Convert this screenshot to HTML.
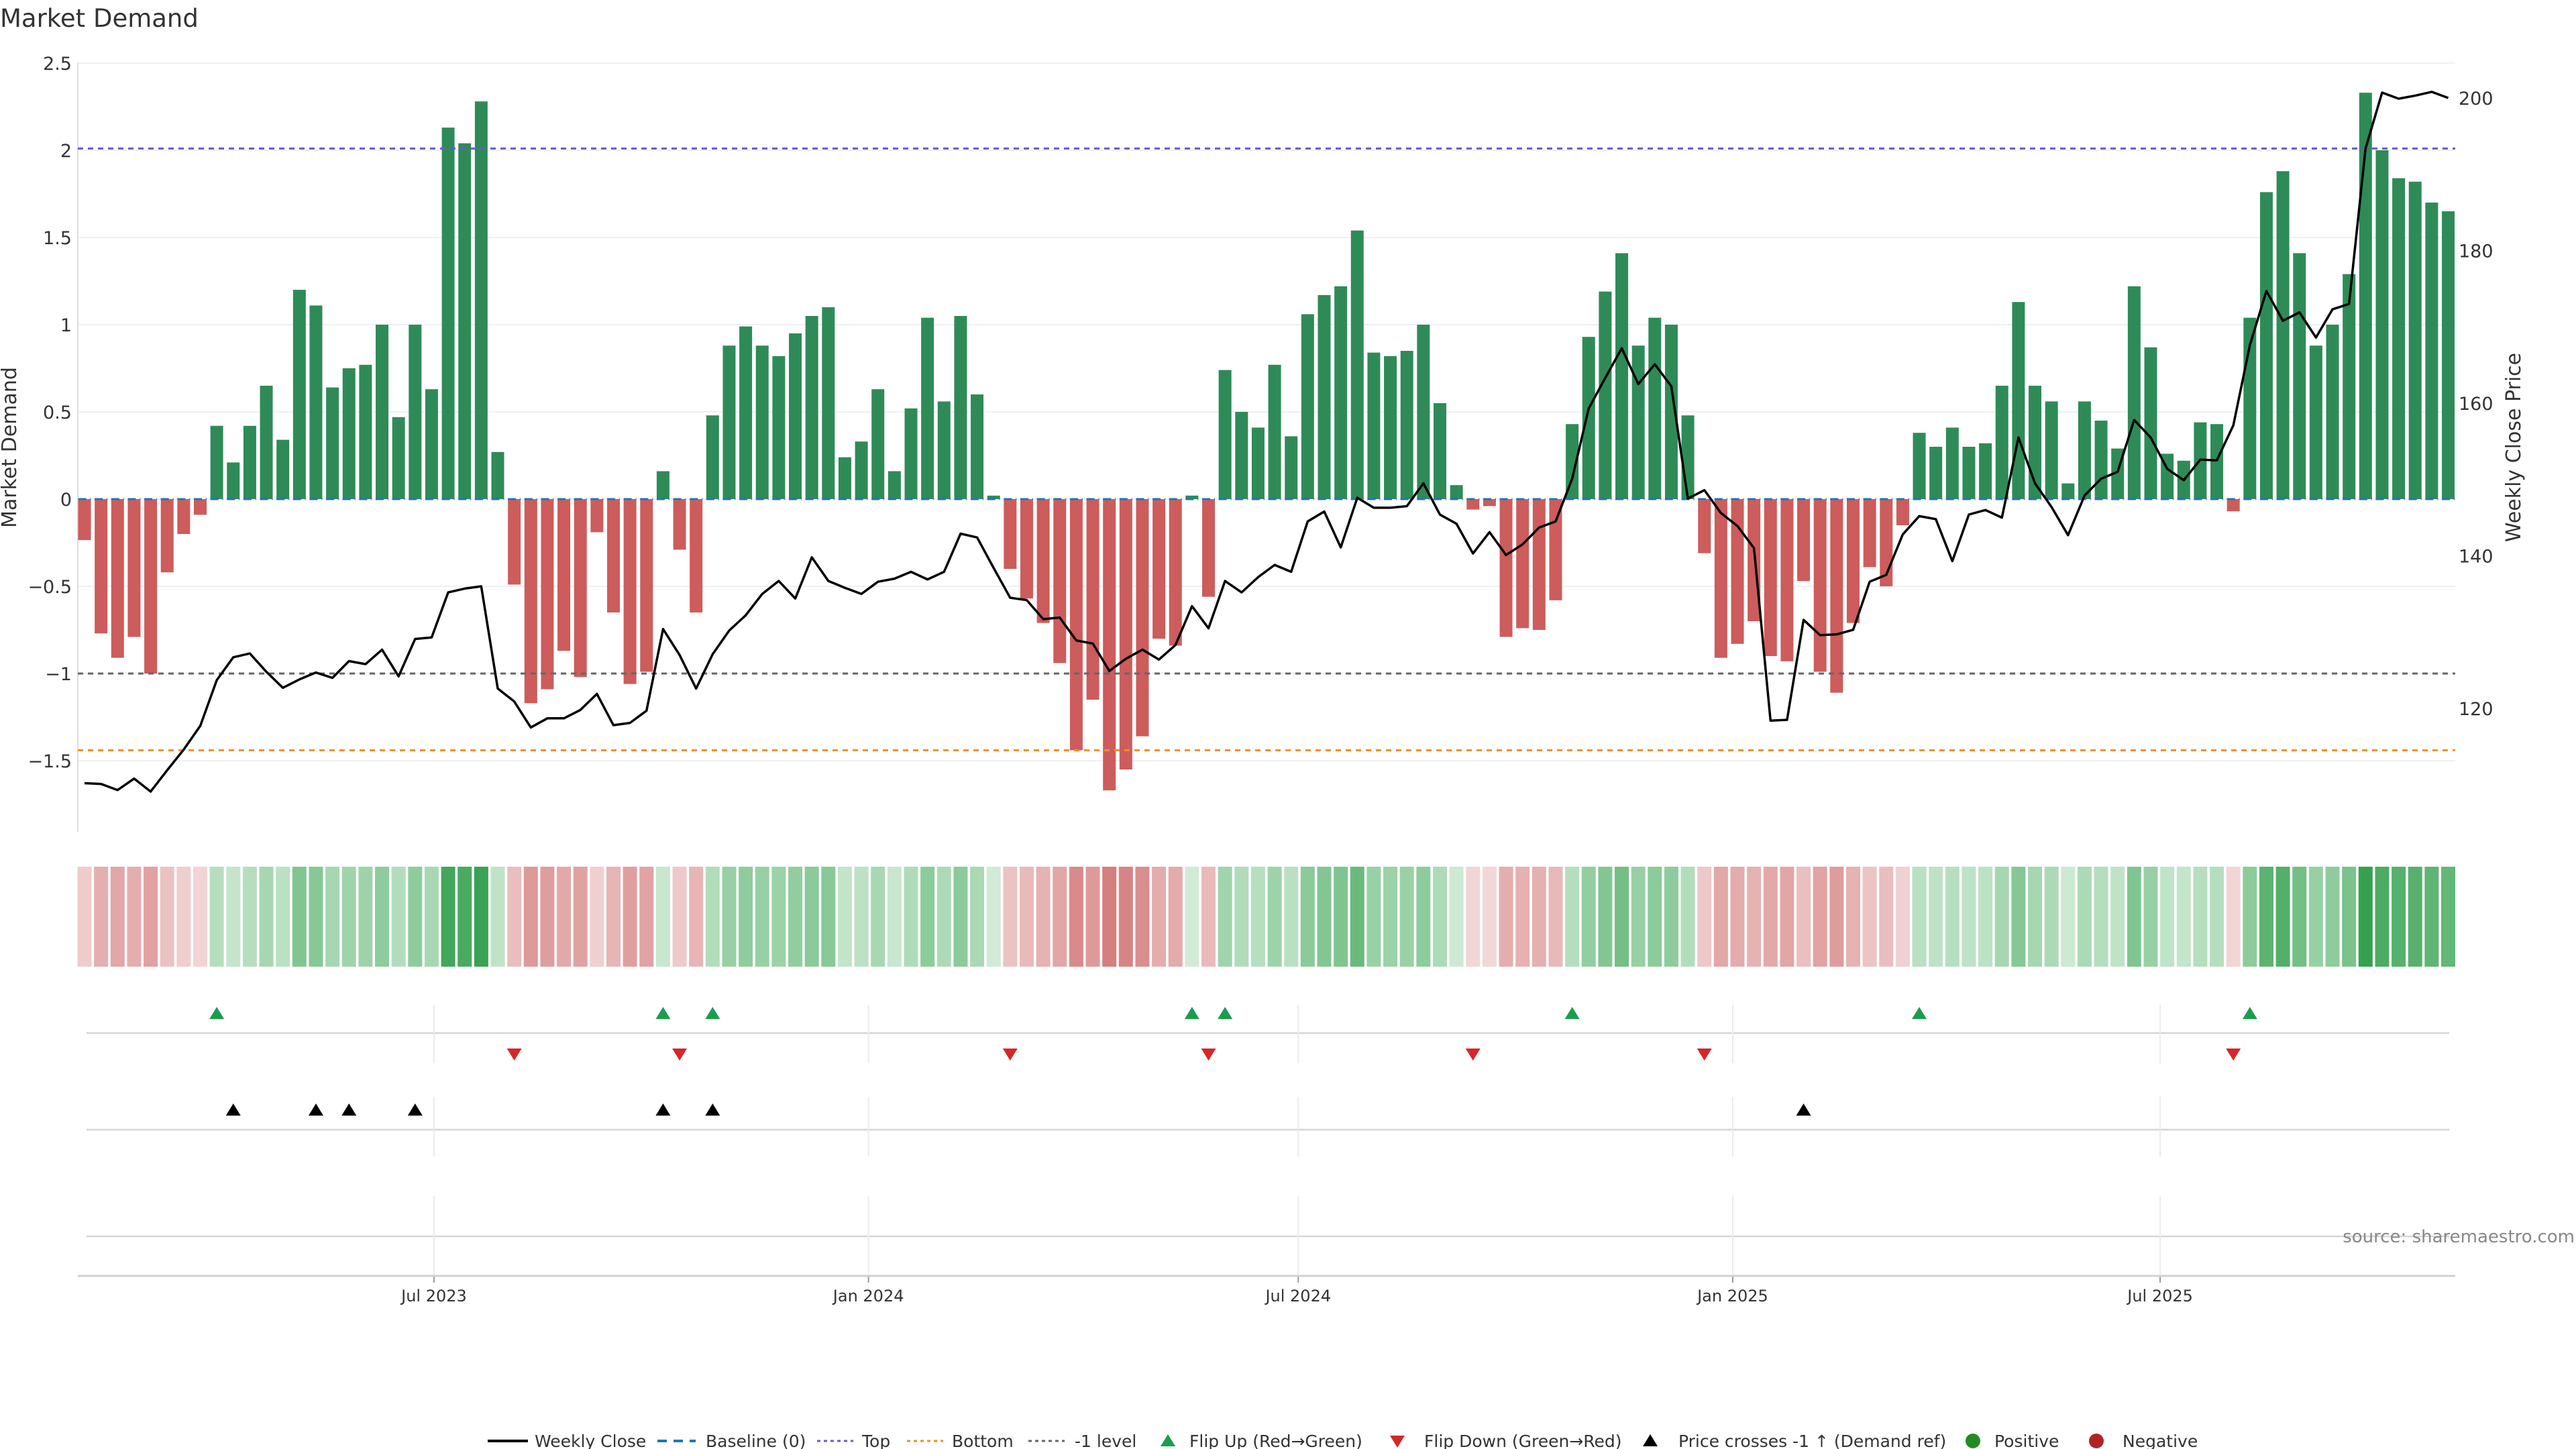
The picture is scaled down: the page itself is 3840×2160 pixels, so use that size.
<!DOCTYPE html>
<html><head><meta charset="utf-8"><title>Market Demand</title>
<style>
html,body{margin:0;padding:0;background:#fff;}
svg{display:block;font-family:"DejaVu Sans","Liberation Sans",sans-serif;}
</style></head>
<body>
<svg id="chart" width="3840" height="2160" viewBox="0 0 3840 2160" xmlns="http://www.w3.org/2000/svg">
<text x="0" y="40" font-size="37" fill="#333">Market Demand</text>
<text transform="translate(24,667) rotate(-90)" text-anchor="middle" font-size="30" fill="#333">Market Demand</text>
<text transform="translate(3757,667) rotate(-90)" text-anchor="middle" font-size="30" fill="#333">Weekly Close Price</text>
<g id="grid"></g><g id="bars"></g><g id="refs"></g><g id="line"></g><g id="axes"></g>
<g id="heat"></g><g id="events"></g><g id="legend"></g>
<text x="3838" y="1852" text-anchor="end" font-size="26" fill="#888">source: sharemaestro.com</text>
</svg>
<script>
const demand = [-0.235,-0.77,-0.91,-0.79,-1.0,-0.42,-0.2,-0.09,0.42,0.21,0.42,0.65,0.34,1.2,1.11,0.64,0.75,0.77,1.0,0.47,1.0,0.63,2.13,2.04,2.28,0.27,-0.49,-1.17,-1.09,-0.87,-1.02,-0.19,-0.65,-1.06,-0.99,0.16,-0.29,-0.65,
0.48,0.88,0.99,0.88,0.82,0.95,1.05,1.10,0.24,0.33,0.63,0.16,0.52,1.04,0.56,1.05,0.60,0.02,
-0.40,-0.57,-0.71,-0.94,-1.44,-1.15,-1.67,-1.55,-1.36,-0.80,-0.84,0.02,-0.56,
0.74,0.50,0.41,0.77,0.36,1.06,1.17,
1.22,1.54,0.84,0.82,0.85,1.0,0.55,0.08,-0.06,-0.04,-0.79,-0.74,-0.75,-0.58,0.43,0.93,1.19,1.41,0.88,1.04,1.0,0.48,-0.31,-0.91,-0.83,-0.70,-0.90,-0.93,-0.47,-0.99,-1.11,-0.71,-0.39,-0.50,-0.15,
0.38,0.30,0.41,0.30,0.32,0.65,1.13,0.65,0.56,0.09,0.56,0.45,0.29,1.22,0.87,0.26,0.22,0.44,0.43,-0.07,1.04,1.76,1.88,1.41,0.88,1.0,1.29,2.33,2.0,1.84,1.82,1.70,1.65];
const price = [110.2,110.1,109.3,110.8,109.1,111.9,114.6,117.7,123.7,126.7,127.2,124.8,122.7,123.8,124.7,124.0,126.2,125.8,127.7,124.2,129.1,129.3,135.2,135.7,136.0,122.6,120.9,117.5,118.7,118.7,119.8,121.9,117.8,118.1,119.7,130.4,127.0,122.6,
127.1,130.2,132.2,135.0,136.7,134.4,139.8,136.7,135.8,135.0,136.6,137.0,137.9,136.9,137.9,142.9,142.4,138.4,134.5,134.2,131.7,131.9,128.9,128.5,124.9,126.5,127.7,126.4,128.3,133.4,130.5,136.7,135.2,137.2,138.8,137.9,
144.5,145.8,141.1,147.6,146.3,146.3,146.5,149.5,145.4,144.2,140.3,143.1,140.1,141.5,143.7,144.5,150.1,159.3,163.3,167.2,162.5,165.1,162.2,147.5,148.6,145.6,143.9,141.0,118.4,118.5,131.6,129.6,129.7,130.3,136.6,137.5,142.8,
145.2,144.8,139.3,145.4,146.0,145.0,155.5,149.5,146.4,142.7,147.9,150.1,151.0,157.8,155.5,151.4,149.9,152.6,152.5,157.1,167.6,174.7,170.8,171.9,168.6,172.3,173.0,193.4,200.7,199.9,200.3,200.8,200.0];
const startDate = "2023-02-03";
const yTicks = [2.5,2,1.5,1,0.5,0,-0.5,-1,-1.5];
const y2Ticks = [120,140,160,180,200];
const dateTicks = ["2023-07-01","2024-01-01","2024-07-01","2025-01-01","2025-07-01"];
const dateLabels = ["Jul 2023","Jan 2024","Jul 2024","Jan 2025","Jul 2025"];
const refTop = 2.01, refBottom = -1.44, refMinus1 = -1.0;

const NS="http://www.w3.org/2000/svg";
function mk(tag,attrs,parent){const e=document.createElementNS(NS,tag);for(const k in attrs)e.setAttribute(k,attrs[k]);parent.appendChild(e);return e;}
const L=116,R=3660,T=94,B=1240;
const pitch=24.64,x0=126;
const d0=new Date(startDate+"T00:00:00Z").getTime();
function xi(i){return x0+i*pitch;}
function xd(s){const d=new Date(s+"T00:00:00Z").getTime();return x0+(d-d0)/(7*864e5)*pitch;}
function y(v){return 744-v*260;}
function y2(p){return 146+(200-p)*11.375;}
function y2inv(py){return 200-(py-146)/11.375;}

const grid=document.getElementById('grid');
yTicks.forEach(t=>{
 const g=mk('line',{x1:L,x2:R,y1:y(t),y2:y(t),stroke:'#eef0f3','stroke-width':2},grid);
 
 
 const tx=mk('text',{x:107,y:y(t)+10,'text-anchor':'end','font-size':27,fill:'#333'},grid);
 tx.textContent=String(t).replace('-','\u2212');
 
 
});
y2Ticks.forEach(t=>{
 const tx=mk('text',{x:3665,y:y2(t)+10,'font-size':27,fill:'#333'},grid);
 tx.textContent=t;
 
 
});
const ax=mk('line',{x1:L,x2:L,y1:T,y2:B,stroke:'#ddd','stroke-width':2},grid);



const bars=document.getElementById('bars');
const bw=19;
demand.forEach((v,i)=>{
 const r=mk('rect',{x:xi(i)-bw/2,y:Math.min(y(v),y(0)),width:bw,height:Math.max(Math.abs(y(v)-y(0)),1),fill:v>=0?'#2e8b57':'#cd5c5c'},bars);
 
 
});

const refs=document.getElementById('refs');
function ref(v,col,dash,name){const l=mk('line',{x1:L,x2:R,y1:y(v),y2:y(v),stroke:col,'stroke-width':3,'stroke-dasharray':dash},refs);
 
 }
ref(refTop,'#6a5acd','8 7','top-line');
ref(refBottom,'#f28e2b','8 7','bottom-line');
ref(refMinus1,'#666','8 7','minus-one-line');
demand.forEach((v,i)=>{
 const l=mk('line',{x1:xi(i)-bw/2,x2:xi(i)+bw/2,y1:y(0),y2:y(0),stroke:'#1f77b4','stroke-width':3,'stroke-dasharray':'12 6'},refs);
 
 
});

const lineG=document.getElementById('line');
const pl=mk('polyline',{points:price.map((p,i)=>xi(i)+','+y2(p)).join(' '),fill:'none',stroke:'#000','stroke-width':3.5,'stroke-linejoin':'round'},lineG);



// heatmap
const heat=document.getElementById('heat');
function mix(a,b,t){return 'rgb('+a.map((c,k)=>Math.round(c+(b[k]-c)*t)).join(',')+')';}
demand.forEach((v,i)=>{
 const col=v>=0?mix([210,236,215],[53,161,79],Math.min(v/2.33,1)):mix([243,217,217],[212,124,124],Math.min(-v/1.7,1));
 const r=mk('rect',{x:xi(i)-10.5,y:1292,width:21,height:149,fill:col},heat);
 
 
});

// events panels
const ev=document.getElementById('events');
[[1540],[1684],[1843]].forEach(a=>{const l=mk('line',{x1:129,x2:3651,y1:a[0],y2:a[0],stroke:'#d5d5d5','stroke-width':2.5},ev);
 
 });
dateTicks.forEach((d,k)=>{
 const x=xd(d);
 [[1498,1585],[1635,1724],[1783,1902]].forEach(s=>{const l=mk('line',{x1:x,x2:x,y1:s[0],y2:s[1],stroke:'#ececec','stroke-width':2},ev);
  
  });
 const tk=mk('line',{x1:x,x2:x,y1:1902,y2:1912,stroke:'#999','stroke-width':2},ev);
 
 
 const t=mk('text',{x:x,y:1940,'text-anchor':'middle','font-size':24,fill:'#333'},ev);
 t.textContent=dateLabels[k];
 
 
});
const xa=mk('line',{x1:L,x2:R,y1:1902,y2:1902,stroke:'#d0d0d0','stroke-width':3},ev);


function tri(x,cy,up,col,name){const h=18,w=11;
 const pts=up?`${x-w},${cy+h/2} ${x+w},${cy+h/2} ${x},${cy-h/2}`:`${x-w},${cy-h/2} ${x+w},${cy-h/2} ${x},${cy+h/2}`;
 const p=mk('polygon',{points:pts,fill:col},ev);
 
 }
const crossLevel=y2inv(y(refMinus1));
for(let i=1;i<demand.length;i++){
 if(demand[i-1]<0&&demand[i]>=0)tri(xi(i),1510,true,'#1a9e4a','flip-up-marker');
 if(demand[i-1]>=0&&demand[i]<0)tri(xi(i),1572,false,'#d62728','flip-down-marker');
 if(price[i-1]<crossLevel&&price[i]>=crossLevel)tri(xi(i),1654,true,'#000','price-cross-marker');
}

// legend
const lg=document.getElementById('legend');
const LY=2148;
function ltext(x,s){const t=mk('text',{x:x,y:LY+9,'font-size':25,fill:'#333'},lg);t.textContent=s;
 
 }
function lline(x1,x2,col,dash,w){const l=mk('line',{x1:x1,x2:x2,y1:LY,y2:LY,stroke:col,'stroke-width':w,'stroke-dasharray':dash},lg);
 
 }
lline(727,787,'#000','none',4);ltext(797,'Weekly Close');
lline(980,1037,'#1f77b4','14 10',4);ltext(1052,'Baseline (0)');
lline(1218,1272,'#6a5acd','5 5',3);ltext(1285,'Top');
lline(1352,1406,'#f28e2b','5 5',3);ltext(1419,'Bottom');
lline(1533,1587,'#666','5 5',3);ltext(1602,'-1 level');
function ltri(x,up,col){const pts=up?`${x-11},${LY+8} ${x+11},${LY+8} ${x},${LY-10}`:`${x-11},${LY-8} ${x+11},${LY-8} ${x},${LY+10}`;
 const p=mk('polygon',{points:pts,fill:col},lg);
 
 }
ltri(1741,true,'#1a9e4a');ltext(1773,'Flip Up (Red\u2192Green)');
ltri(2083,false,'#d62728');ltext(2123,'Flip Down (Green\u2192Red)');
ltri(2460,true,'#000');ltext(2502,'Price crosses -1 \u2191 (Demand ref)');
function ldot(x,col){const c=mk('circle',{cx:x,cy:LY,r:11,fill:col},lg);
 
 }
ldot(2941,'#228b22');ltext(2973,'Positive');
ldot(3125,'#b22222');ltext(3164,'Negative');
</script>
</body></html>
